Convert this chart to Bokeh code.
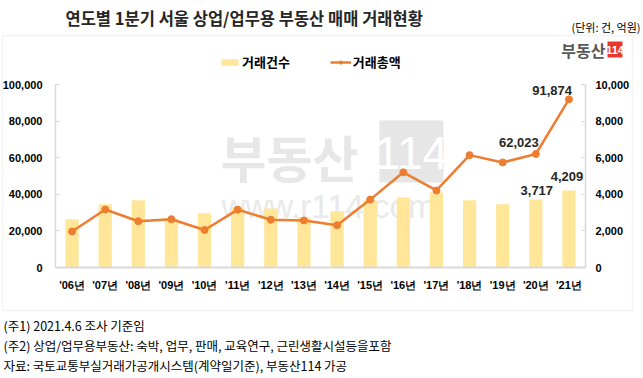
from bokeh.plotting import figure
from bokeh.models import (ColumnDataSource, Range1d, LinearAxis, NumeralTickFormatter,
                          FixedTicker, Label, BoxAnnotation, Legend, LegendItem)
from bokeh.core.properties import value
from bokeh.embed import file_html
from bokeh.resources import INLINE

# ---- data ----
years = ["'06년", "'07년", "'08년", "'09년", "'10년", "'11년", "'12년", "'13년",
         "'14년", "'15년", "'16년", "'17년", "'18년", "'19년", "'20년", "'21년"]
counts = [2630, 3450, 3670, 2680, 2960, 3290, 3230, 2740,
          3070, 3670, 3830, 4100, 3670, 3450, 3717, 4209]          # 거래건수 (건)
amounts = [19700, 31700, 25300, 26400, 20500, 31600, 26100, 25700,
           23100, 37100, 52000, 42100, 61400, 57400, 62023, 91874]  # 거래총액 (억원)
left_ticks = [0, 20000, 40000, 60000, 80000, 100000]
right_ticks = [0, 2000, 4000, 6000, 8000, 10000]

title_text = "연도별 1분기 서울 상업/업무용 부동산 매매 거래현황"
unit_text = "(단위: 건, 억원)"
notes = ["(주1) 2021.4.6 조사 기준임",
         "(주2) 상업/업무용부동산: 숙박, 업무, 판매, 교육연구, 근린생활시설등을포함",
         "자료: 국토교통부실거래가공개시스템(계약일기준), 부동산114 가공"]

KR = "Noto Sans CJK KR"
NUM = "Liberation Sans"
BAR = "#FFE699"
LINE = "#ED7D31"
GRAY = "#d9d9d9"

# ---- geometry: canvas 643x378, plot area 55..585 x 84..267 (pixels) ----
W, H = 643, 378
PL, PR, PT, PB = 55, 585, 84, 267
N = len(years)
LMAX, RMAX = 100000, 10000
ux = (PR - PL) / N                 # pixels per category
uy = LMAX / (PB - PT)              # left-axis value per pixel
xr = Range1d(-PL / ux, N + (W - PR) / ux)
yr = Range1d(-(H - PB) * uy, PB * uy)

xs = [i + 0.5 for i in range(N)]
src = ColumnDataSource(dict(x=xs, year=years, count=counts, amount=amounts))

p = figure(width=W, height=H, x_range=xr, y_range=yr, x_axis_type=None, y_axis_type=None,
           output_backend="svg", toolbar_location=None, min_border=0,
           background_fill_color="white", border_fill_color="white")
p.outline_line_color = None
p.xgrid.grid_line_color = None
p.ygrid.grid_line_color = None
p.extra_y_ranges = {"cnt": Range1d(yr.start * RMAX / LMAX, yr.end * RMAX / LMAX),
                    "px": Range1d(H, 0)}
p.extra_x_ranges = {"px": Range1d(0, W)}


def pxlabel(x, y, text, **kw):
    p.add_layout(Label(x=x, y=y, text=text, x_range_name="px", y_range_name="px",
                       text_baseline="middle", **kw))


# outer box
p.add_layout(BoxAnnotation(left=2, right=632, top=35, bottom=310, x_range_name="px",
                           y_range_name="px", fill_alpha=0, line_color=GRAY, line_width=1.5,
                           level="underlay"))

# watermark (decoration)
p.add_layout(BoxAnnotation(left=379, right=443, top=120, bottom=182, x_range_name="px",
                           y_range_name="px", fill_color="#e6e6e6", fill_alpha=1,
                           line_color=None, level="underlay"))
pxlabel(220, 155, "부동산", text_font=KR, text_font_size="50px", text_font_style="bold",
        text_color="#e7e7e7", level="underlay")
pxlabel(411, 152, "114", text_font=NUM, text_font_size="46px", text_color="white",
        text_align="center", level="underlay")
pxlabel(221, 206, "www.r114.com", text_font=NUM, text_font_size="33px",
        text_color="#e9e9e9", level="underlay")

# ---- series ----
bars = p.vbar(x="x", top="count", width=0.4, source=src, y_range_name="cnt",
              fill_color=BAR, line_color=None)
line = p.line(x="x", y="amount", source=src, line_color=LINE, line_width=2.5)
pts = p.scatter(x="x", y="amount", source=src, size=7, fill_color=LINE, line_color=LINE)

# ---- axes (drawn at fixed locations inside the canvas) ----
left = LinearAxis(ticker=FixedTicker(ticks=left_ticks), formatter=NumeralTickFormatter(format="0,0"),
                  fixed_location=0, bounds=(0, LMAX))
right = LinearAxis(y_range_name="cnt", ticker=FixedTicker(ticks=right_ticks),
                   formatter=NumeralTickFormatter(format="0,0"), fixed_location=N, bounds=(0, RMAX))
bottom = LinearAxis(ticker=FixedTicker(ticks=xs), fixed_location=0, bounds=(0, N),
                    major_label_overrides={x: y for x, y in zip(xs, years)})
p.add_layout(left, "left")
p.add_layout(right, "right")
p.add_layout(bottom, "below")

for a in (left, right):
    a.axis_line_color = GRAY
    a.axis_line_width = 1.5
    a.major_tick_line_color = GRAY
    a.major_tick_in = 4
    a.major_tick_out = 0
    a.minor_tick_line_color = None
    a.major_label_text_font = NUM
    a.major_label_text_font_size = "11px"
    a.major_label_text_font_style = "bold"
    a.major_label_text_color = "#000000"
left.major_label_standoff = 13
right.major_label_standoff = 10

bottom.axis_line_color = GRAY
bottom.axis_line_width = 2
bottom.major_tick_line_color = None
bottom.minor_tick_line_color = None
bottom.major_label_text_font = NUM
bottom.major_label_text_font_size = "11px"
bottom.major_label_text_font_style = "bold"
bottom.major_label_text_color = "#000000"
bottom.major_label_standoff = 5

# ---- data labels ----
lbl_line = ColumnDataSource(dict(x=[xs[15], xs[14]], y=[amounts[15], amounts[14]],
                                 t=["{:,}".format(amounts[15]), "{:,}".format(amounts[14])],
                                 yo=[-4, -7]))
p.text(x="x", y="y", text="t", source=lbl_line, text_align="right", text_baseline="bottom",
       x_offset=3, y_offset="yo", text_font=value(NUM), text_font_size="13px",
       text_font_style="bold", text_color="#262626")
lbl_bar = ColumnDataSource(dict(x=[xs[14], xs[15]], y=[counts[14], counts[15]],
                                t=["{:,}".format(counts[14]), "{:,}".format(counts[15])],
                                xo=[1, -2], yo=[-4, -9]))
p.text(x="x", y="y", text="t", source=lbl_bar, y_range_name="cnt", text_align="center",
       text_baseline="bottom", x_offset="xo", y_offset="yo", text_font=value(NUM),
       text_font_size="13px", text_font_style="bold", text_color="#262626")

# ---- legend ----
legend = Legend(items=[LegendItem(label="거래건수", renderers=[bars]),
                       LegendItem(label="거래총액", renderers=[line, pts])],
                orientation="horizontal", location=(219, 307), border_line_color=None,
                background_fill_alpha=0, margin=0, padding=2, spacing=40,
                glyph_width=21, glyph_height=8, label_standoff=2,
                label_text_font=KR, label_text_font_size="13px",
                label_text_font_style="bold", label_text_color="#000000")
p.add_layout(legend)

# ---- title, unit, logo, notes ----
pxlabel(65, 17, title_text, text_font=KR, text_font_size="16.5px", text_font_style="bold",
        text_color="#262626")
pxlabel(640, 26, unit_text, text_font=KR, text_font_size="11px", text_color="#000000",
        text_align="right")
p.add_layout(BoxAnnotation(left=607, right=622, top=41, bottom=57, x_range_name="px",
                           y_range_name="px", fill_color="#e8382d", fill_alpha=1, line_color=None))
pxlabel(614.5, 49.5, "114", text_font=NUM, text_font_size="11px", text_font_style="bold",
        text_color="white", text_align="center")
pxlabel(605, 49.5, "부동산", text_font=KR, text_font_size="16px", text_font_style="bold",
        text_color="#595959", text_align="right")
for t, yy in zip(notes, [325, 345, 365]):
    pxlabel(3, yy, t, text_font=KR, text_font_size="12.5px", text_color="#000000")

open("out.html", "w").write(file_html(p, INLINE))
